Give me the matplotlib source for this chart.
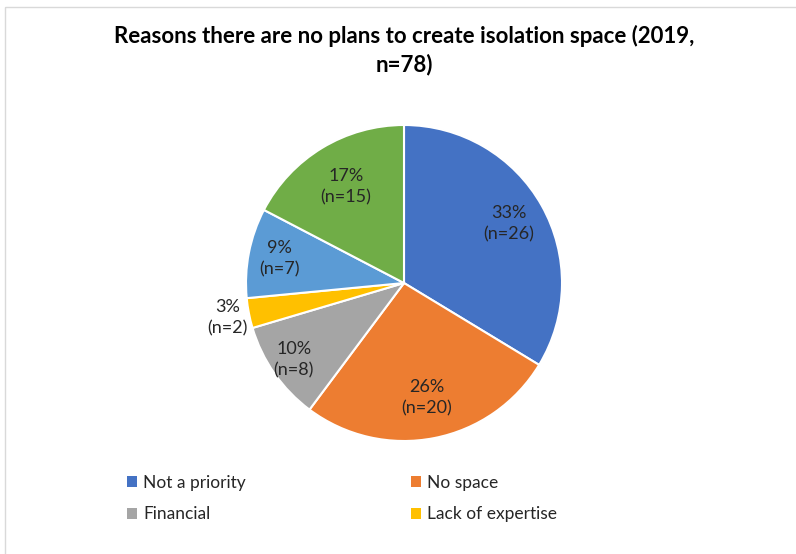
import numpy as np
import matplotlib.pyplot as plt
from matplotlib.patches import Rectangle, Patch

plt.rcParams['font.family'] = ['Lato', 'DejaVu Sans']

# data (slice sizes follow the printed percentages)
labels = ['Not a priority', 'No space', 'Financial', 'Lack of expertise', 'Other', 'Other reasons']
pcts = [33, 26, 10, 3, 9, 17]
counts = [26, 20, 8, 2, 7, 15]
colors = ['#4472C4', '#ED7D31', '#A5A5A5', '#FFC000', '#5B9BD5', '#70AD47']
legend_shown = 4

fig = plt.figure(figsize=(7.96, 5.54), dpi=100)
ax = fig.add_axes([0, 0, 1, 1])

# y axis is flipped below, so -90 is the top and counterclock runs clockwise on screen
cx, cy, r = 404, 283, 158
wedges, _ = ax.pie(pcts, colors=colors, startangle=-90, counterclock=True, center=(cx, cy),
                   radius=r, wedgeprops=dict(edgecolor='white', linewidth=1.5), frame=True)
ax.set_xlim(0, 796)
ax.set_ylim(554, 0)
ax.set_aspect('equal')
ax.axis('off')

# chart frame, cropped at right and bottom
ax.add_patch(Rectangle((5, 7), 900, 700, fill=False, edgecolor='#D9D9D9', lw=1, clip_on=False))

# label distances (fraction of radius)
dist = [0.76, 0.74, 0.85, 1.14, 0.80, 0.71]
for w, p, n, d in zip(wedges, pcts, counts, dist):
    ang = np.deg2rad((w.theta1 + w.theta2) / 2)
    x = cx + d * r * np.cos(ang)
    y = cy + d * r * np.sin(ang)
    ax.text(x, y, '%d%%\n(n=%d)' % (p, n), ha='center', va='center', fontsize=13,
            color='#262626', linespacing=1.4)

ax.text(404, 50, 'Reasons there are no plans to create isolation space (2019,\nn=78)',
        ha='center', va='center', fontsize=16, fontweight='bold', color='black', linespacing=1.35)

# legend is filled column-wise, reorder so rows read left to right
order = [0, 2, 1, 3][:legend_shown]
handles = [Patch(facecolor=colors[i], edgecolor='none') for i in order]
fig.legend(handles, [labels[i] for i in order], ncol=2, loc='upper left',
           bbox_to_anchor=(111 / 796, 1 - 459 / 554), frameon=False, fontsize=12.5,
           handlelength=0.6, handleheight=0.6, handletextpad=0.35, columnspacing=9.5,
           labelspacing=0.9, labelcolor='#262626')

fig.savefig('out.png', dpi=100)
